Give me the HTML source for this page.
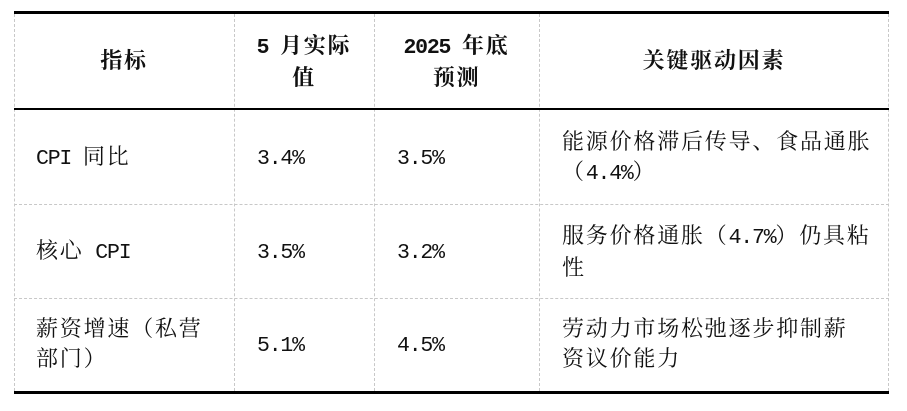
<!DOCTYPE html>
<html><head><meta charset="utf-8"><style>
body{margin:0;width:907px;height:411px;background:#fff;position:relative;overflow:hidden;font-family:"Liberation Serif","Noto Serif CJK SC",serif;color:#111}
.v{position:absolute;width:0;border-left:1px dashed #c8c8c8;top:14px;height:377px}
.hd{position:absolute;border-top:1px dashed #c8c8c8;height:0}
.t{position:absolute;font-size:22px;line-height:30px;letter-spacing:1.8px;white-space:nowrap}
.m{font-family:"Liberation Mono",monospace;font-size:21.5px;letter-spacing:-1.2px}
.b{font-weight:bold;text-align:center}
</style></head><body>
<div class="v" style="left:14px"></div>
<div class="v" style="left:234px"></div>
<div class="v" style="left:374px"></div>
<div class="v" style="left:539px"></div>
<div class="v" style="left:888px"></div>
<div class="hd" style="left:14px;width:875px;top:204px"></div>
<div class="hd" style="left:14px;width:875px;top:298px"></div>
<div style="position:absolute;left:14px;width:875px;top:11px;height:3px;background:#000"></div>
<div style="position:absolute;left:14px;width:875px;top:108px;height:1.5px;background:#000"></div>
<div style="position:absolute;left:14px;width:875px;top:391px;height:3px;background:#000"></div>

<div class="t b" style="left:14px;width:220px;top:46px">指标</div>
<div class="t b" style="left:234px;width:140px;top:31px"><span class="m" style="font-weight:bold">5 </span>月实际<br>值</div>
<div class="t b" style="left:374px;width:165px;top:31px"><span class="m" style="font-weight:bold">2025 </span>年底<br>预测</div>
<div class="t b" style="left:539px;width:350px;top:46px">关键驱动因素</div>

<div class="t" style="left:36px;top:142px"><span class="m">CPI </span>同比</div>
<div class="t" style="left:257px;top:142px"><span class="m">3.4%</span></div>
<div class="t" style="left:397px;top:142px"><span class="m">3.5%</span></div>
<div class="t" style="left:562px;top:127px">能源价格滞后传导、食品通胀<br>（<span class="m">4.4%</span>）</div>

<div class="t" style="left:36px;top:236px">核心<span class="m"> CPI</span></div>
<div class="t" style="left:257px;top:236px"><span class="m">3.5%</span></div>
<div class="t" style="left:397px;top:236px"><span class="m">3.2%</span></div>
<div class="t" style="left:562px;top:221px">服务价格通胀（<span class="m">4.7%</span>）仍具粘<br>性</div>

<div class="t" style="left:36px;top:314px">薪资增速（私营<br>部门）</div>
<div class="t" style="left:257px;top:329px"><span class="m">5.1%</span></div>
<div class="t" style="left:397px;top:329px"><span class="m">4.5%</span></div>
<div class="t" style="left:562px;top:314px">劳动力市场松弛逐步抑制薪<br>资议价能力</div>
</body></html>
